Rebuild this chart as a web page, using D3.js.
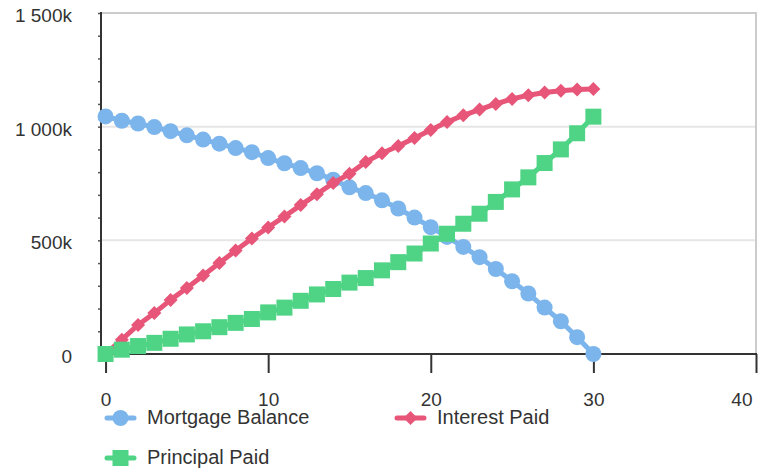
<!DOCTYPE html>
<html>
<head>
<meta charset="utf-8">
<script src="https://cdn.jsdelivr.net/npm/d3@7"></script>
<style>
  body { margin: 0; background: #fff; }
  text { font-family: "Liberation Sans", Arial, sans-serif; fill: #333; }
</style>
</head>
<body>
<div id="chart"></div>
<script>
// years 0..30
const years = d3.range(0, 31);

// values in thousands
const mortgageBalance = [1045, 1026, 1014, 998, 980, 962, 943, 925, 906, 888, 862, 839, 818, 795, 767,
  733, 708, 676, 640, 600, 558, 515, 471, 426, 374, 320, 266, 204, 144, 74, 0];
const interestPaid = [0, 63, 128, 180, 238, 290, 345, 400, 455, 508, 557, 605, 655, 703, 752,
  793, 845, 883, 915, 950, 985, 1020, 1050, 1075, 1100, 1122, 1138, 1150, 1158, 1163, 1166];
const principalPaid = [0, 19, 35, 49, 67, 86, 100, 118, 137, 154, 183, 204, 234, 262, 286,
  314, 334, 368, 404, 442, 486, 529, 573, 617, 669, 724, 777, 840, 900, 971, 1044];

const seriesNames = ['Mortgage Balance', 'Interest Paid', 'Principal Paid'];
const seriesColors = ['#7cb5ec', '#e75679', '#4fd486'];
const seriesMarkers = ['circle', 'diamond', 'square'];

const xTicks = [0, 10, 20, 30, 40];
const yTicks = [0, 500, 1000, 1500];
const yTickLabels = ['0', '500k', '1 000k', '1 500k'];
const yMinorTicks = d3.range(0, 1501, 100);

const width = 762, height = 469;
const plot = { left: 101, right: 756, top: 13, bottom: 354 };

const svg = d3.select('#chart').append('svg')
  .attr('width', width)
  .attr('height', height);

const x = d3.scaleLinear().domain([-0.28, 40]).range([plot.left, plot.right]);
const y = d3.scaleLinear().domain([0, 1500]).range([plot.bottom, plot.top]);

// gridlines
svg.append('g')
  .selectAll('line')
  .data(yTicks.slice(1))
  .join('line')
  .attr('x1', plot.left).attr('x2', plot.right)
  .attr('y1', d => y(d)).attr('y2', d => y(d))
  .attr('stroke', d => d === 1500 ? '#cccccc' : '#e6e6e6')
  .attr('stroke-width', 2);

// right border
svg.append('line')
  .attr('x1', plot.right).attr('x2', plot.right)
  .attr('y1', plot.top - 1).attr('y2', plot.bottom)
  .attr('stroke', '#cccccc')
  .attr('stroke-width', 2);

// y axis
const yAxis = svg.append('g')
  .attr('transform', `translate(${plot.left},0)`)
  .call(d3.axisLeft(y).tickValues(yMinorTicks).tickSize(3).tickFormat(''));
yAxis.select('.domain').remove();
yAxis.selectAll('.tick line').attr('stroke', '#555').attr('stroke-width', 1.5);
yAxis.append('line')
  .attr('x1', 0).attr('x2', 0)
  .attr('y1', plot.top - 1).attr('y2', plot.bottom + 1)
  .attr('stroke', '#333').attr('stroke-width', 2);

svg.append('g')
  .selectAll('text')
  .data(yTicks)
  .join('text')
  .attr('x', 72)
  .attr('y', d => y(d) + 4)
  .attr('text-anchor', 'end')
  .attr('dominant-baseline', 'middle')
  .style('font-size', '19px')
  .text((d, i) => yTickLabels[i]);

// x axis
const xAxis = svg.append('g')
  .attr('transform', `translate(0,${plot.bottom})`)
  .call(d3.axisBottom(x).tickValues(xTicks).tickSize(19).tickPadding(20));
xAxis.select('.domain').remove();
xAxis.append('line')
  .attr('x1', plot.left - 1).attr('x2', plot.right + 1)
  .attr('y1', 0).attr('y2', 0)
  .attr('stroke', '#333').attr('stroke-width', 2);
xAxis.selectAll('.tick line').attr('stroke', '#333').attr('stroke-width', 2);
xAxis.selectAll('.tick text')
  .attr('fill', '#333')
  .style('font-family', '"Liberation Sans", Arial, sans-serif')
  .style('font-size', '19px');
// last label kept inside the chart, like the reference
xAxis.selectAll('.tick text')
  .filter(d => d === 40)
  .attr('text-anchor', 'end')
  .attr('x', -4);

// marker drawing
function drawMarker(sel, type, color) {
  if (type === 'circle') {
    sel.append('circle').attr('r', 8).attr('fill', color);
  } else if (type === 'square') {
    sel.append('rect').attr('x', -8).attr('y', -8).attr('width', 16).attr('height', 16).attr('fill', color);
  } else {
    sel.append('path').attr('d', 'M0,-7L7,0L0,7L-7,0Z').attr('fill', color);
  }
}

const allSeries = [mortgageBalance, interestPaid, principalPaid];

const line = d3.line()
  .x((d, i) => x(years[i]))
  .y(d => y(d));

allSeries.forEach((values, s) => {
  const g = svg.append('g');
  g.append('path')
    .datum(values)
    .attr('fill', 'none')
    .attr('stroke', seriesColors[s])
    .attr('stroke-width', 5)
    .attr('stroke-linejoin', 'round')
    .attr('d', line);
  g.selectAll('g.pt')
    .data(values)
    .join('g')
    .attr('class', 'pt')
    .attr('transform', (d, i) => `translate(${x(years[i])},${y(d)})`)
    .each(function () { drawMarker(d3.select(this), seriesMarkers[s], seriesColors[s]); });
});

// legend
const legendPos = [[105, 418], [395, 418], [105, 458]];
seriesNames.forEach((name, s) => {
  const g = svg.append('g').attr('transform', `translate(${legendPos[s][0]},${legendPos[s][1]})`);
  g.append('line')
    .attr('x1', 2).attr('x2', 29)
    .attr('stroke', seriesColors[s])
    .attr('stroke-width', 5)
    .attr('stroke-linecap', 'round');
  const m = g.append('g').attr('transform', 'translate(15.5,0)');
  drawMarker(m, seriesMarkers[s], seriesColors[s]);
  g.append('text')
    .attr('x', 42)
    .attr('y', 1)
    .attr('dominant-baseline', 'middle')
    .style('font-size', '20px')
    .text(name);
});
</script>
</body>
</html>
